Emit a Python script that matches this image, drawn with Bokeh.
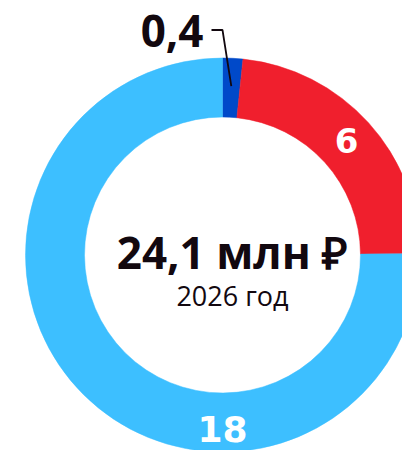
import numpy as np
from bokeh.plotting import figure
from bokeh.models import Range1d, ColumnDataSource
from bokeh.core.properties import value
from bokeh.embed import file_html
from bokeh.resources import INLINE

# ---- data ----
categories = ["a", "b", "c"]
values = [0.4, 5.6, 18.1]
labels = ["0,4", "6", "18"]
colors = ["#0049C9", "#F01F2D", "#3DBFFF"]
total_label = "24,1 млн ₽"
year_label = "2026 год"

# ---- geometry (pixel-like data units; y = 450 - image y) ----
W, H = 402, 450
cx, cy = 222.0, 195.5
r_in, r_out = 138.0, 197.0

p = figure(width=W, height=H, output_backend="svg", toolbar_location=None,
           x_range=Range1d(0, W), y_range=Range1d(0, H),
           min_border=0, outline_line_color=None)
p.axis.visible = False
p.grid.visible = False
p.background_fill_color = "white"
p.border_fill_color = "white"

vals = np.array(values, dtype=float)
cum = np.concatenate([[0], np.cumsum(vals)]) / vals.sum() * 360.0  # clockwise deg from top
start_cw = cum[:-1]
end_cw = cum[1:]
src = ColumnDataSource(dict(
    x=[cx] * len(vals), y=[cy] * len(vals),
    start=np.deg2rad(90 - end_cw), end=np.deg2rad(90 - start_cw),
    color=colors, cat=categories))
p.annular_wedge(x="x", y="y", inner_radius=r_in, outer_radius=r_out,
                start_angle="start", end_angle="end", direction="anticlock",
                fill_color="color", line_color="color", line_width=0.5, source=src)

mid = (start_cw + end_cw) / 2.0

# leader line for the small slice
lead_r_end = 169.0
lead_r_top = 225.0
a0 = np.deg2rad(mid[0])
ex, ey = cx + lead_r_end * np.sin(a0), cy + lead_r_end * np.cos(a0)
tx, ty = cx, cy + lead_r_top
p.line([tx - 11, tx, ex], [ty, ty, ey], line_color="#12080F", line_width=1.8)

dark = "#12080F"
bold_font = value("Open Sans")
p.text(x=[tx - 19], y=[ty - 1], text=[labels[0]], text_align="right",
       text_baseline="alphabetic", text_font=bold_font, text_font_size="44px",
       text_font_style="bold", text_color=dark)

# label on red slice at mid-angle, ring middle
r_mid = (r_in + r_out) / 2
a1 = np.deg2rad(mid[1])
p.text(x=[cx + r_mid * np.sin(a1)], y=[cy + r_mid * np.cos(a1) + 2], text=[labels[1]],
       text_align="center", text_baseline="middle", text_font=value("DejaVu Sans"),
       text_font_size="34px", text_font_style="bold", text_color="white")

# label on big slice at bottom
p.text(x=[cx], y=[cy - 174], text=[labels[2]], text_align="center",
       text_baseline="middle", text_font=value("DejaVu Sans"),
       text_font_size="36px", text_font_style="bold", text_color="white")

# center texts
p.text(x=[cx + 10], y=[cy + 3], text=[total_label], text_align="center",
       text_baseline="alphabetic", text_font=bold_font, text_font_size="44px",
       text_font_style="bold", text_color=dark)
p.text(x=[cx + 10], y=[cy - 40], text=[year_label], text_align="center",
       text_baseline="alphabetic", text_font=value("Open Sans"), text_font_size="27px",
       text_color=dark)

open("out.html", "w").write(file_html(p, INLINE))
